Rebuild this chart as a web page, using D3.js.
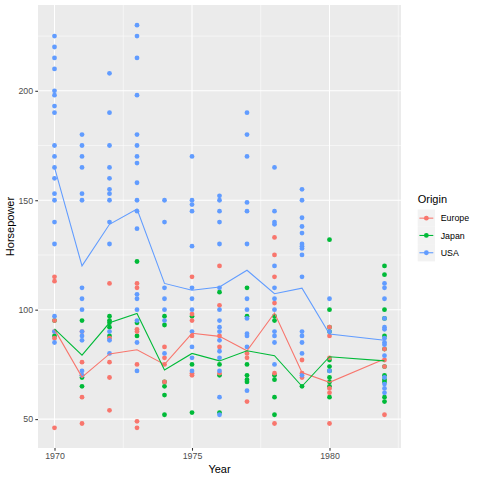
<!DOCTYPE html>
<html>
<head>
<meta charset="utf-8">
<script src="https://cdn.jsdelivr.net/npm/d3@7"></script>
<style>
  body { margin: 0; background: #fff; }
  svg { display: block; font-family: "Liberation Sans", Arial, sans-serif; }
</style>
</head>
<body>
<div id="chart"></div>
<script>
// Data: horsepower per model year, by origin
var years = [1970, 1971, 1972, 1973, 1974, 1975, 1976, 1977, 1978, 1979, 1980, 1982];

var usaHp = [
    [225, 220, 215, 210, 200, 198, 193, 190, 175, 170, 165, 160, 153, 150, 140, 130, 97, 90, 85],
    [180, 175, 170, 165, 153, 150, 110, 105, 100, 90, 88, 86, 72, 70],
    [208, 190, 175, 165, 160, 155, 153, 150, 140, 130, 90, 86, 80],
    [230, 225, 215, 198, 180, 175, 170, 167, 158, 150, 145, 137, 107, 105, 100, 95, 85, 72],
    [150, 140, 110, 105, 100, 95, 80],
    [170, 150, 148, 145, 129, 110, 105, 100, 90, 83, 78, 72],
    [152, 150, 145, 140, 130, 110, 100, 95, 92, 90, 86, 81, 78, 72, 60, 52],
    [190, 180, 170, 149, 145, 130, 105, 100, 96, 89, 88, 83, 63],
    [165, 145, 140, 139, 120, 110, 105, 100, 90, 88, 85, 75],
    [155, 150, 142, 138, 135, 130, 129, 128, 125, 115, 90, 88, 85, 80, 70],
    [105, 90, 72],
    [112, 110, 105, 96, 92, 91, 87, 85, 84, 79, 69, 66, 64, 62]
];
var europeHp = [
    [115, 113, 95, 90, 87, 46],
    [90, 76, 70, 60, 48],
    [112, 87, 76, 69, 54],
    [112, 110, 91, 90, 75, 49, 46],
    [83, 78, 75, 67],
    [115, 98, 95, 88, 71, 70],
    [120, 102, 88, 83, 71],
    [80, 78, 58],
    [133, 125, 115, 103, 71, 48],
    [77, 71, 69],
    [92, 88, 78, 64, 62, 48],
    [82, 77, 74, 52]
];
var japanHp = [
    [95, 88],
    [95, 69, 65],
    [97, 95, 94, 92, 88],
    [122, 94, 88],
    [97, 93, 67, 65, 61, 52],
    [97, 75, 53],
    [108, 75, 70, 53],
    [110, 97, 75, 70, 68, 67],
    [97, 95, 70, 68, 60, 52],
    [65],
    [132, 100, 92, 90, 77, 74, 72, 69, 67, 65, 60],
    [120, 116, 100, 96, 88, 82, 74, 70, 68, 67, 60, 58]
];

// yearly means (the lines)
var usaMean = [165, 120, 139, 146, 112, 108.9, 110.4, 118, 107.3, 109.8, 88.9, 86];
var europeMean = [91, 69.2, 79.8, 81.7, 75, 89.2, 87.8, 81.2, 98.5, 71.3, 66.8, 77.5];
var japanMean = [91.2, 79.2, 94, 98.3, 72.4, 80, 76.6, 81.2, 79, 65, 78.5, 76.6];

var origins = ["Europe", "Japan", "USA"];
var colors = ["#F8766D", "#00BA38", "#619CFF"];

var svgWidth = 480;
var svgHeight = 480;
var panel = { left: 38, right: 401, top: 5, bottom: 448 };

var svg = d3.select("#chart")
    .append("svg")
    .attr("width", svgWidth)
    .attr("height", svgHeight);

var xScale = d3.scaleLinear()
    .domain([1969.4, 1982.6])
    .range([panel.left, panel.right]);

var yScale = d3.scaleLinear()
    .domain([36.8, 239.2])
    .range([panel.bottom, panel.top]);

// panel background + grid
svg.append("rect")
    .attr("x", panel.left)
    .attr("y", panel.top)
    .attr("width", panel.right - panel.left)
    .attr("height", panel.bottom - panel.top)
    .attr("fill", "#EBEBEB");

var gridGroup = svg.append("g");

[1972.5, 1977.5, 1982.5].forEach(function(v) {
    gridGroup.append("line")
        .attr("x1", xScale(v)).attr("x2", xScale(v))
        .attr("y1", panel.top).attr("y2", panel.bottom)
        .attr("stroke", "#fff").attr("stroke-width", 0.53);
});
[75, 125, 175, 225].forEach(function(v) {
    gridGroup.append("line")
        .attr("x1", panel.left).attr("x2", panel.right)
        .attr("y1", yScale(v)).attr("y2", yScale(v))
        .attr("stroke", "#fff").attr("stroke-width", 0.53);
});
[1970, 1975, 1980].forEach(function(v) {
    gridGroup.append("line")
        .attr("x1", xScale(v)).attr("x2", xScale(v))
        .attr("y1", panel.top).attr("y2", panel.bottom)
        .attr("stroke", "#fff").attr("stroke-width", 1.07);
});
[50, 100, 150, 200].forEach(function(v) {
    gridGroup.append("line")
        .attr("x1", panel.left).attr("x2", panel.right)
        .attr("y1", yScale(v)).attr("y2", yScale(v))
        .attr("stroke", "#fff").attr("stroke-width", 1.07);
});

// flatten points
function flatten(hpLists, origin) {
    var out = [];
    hpLists.forEach(function(list, i) {
        list.forEach(function(hp) {
            out.push({ year: years[i], hp: hp, origin: origin });
        });
    });
    return out;
}

var points = flatten(japanHp, "Japan")
    .concat(flatten(europeHp, "Europe"))
    .concat(flatten(usaHp, "USA"));

var colorScale = d3.scaleOrdinal().domain(origins).range(colors);

svg.append("g")
    .selectAll("circle")
    .data(points)
    .enter()
    .append("circle")
    .attr("cx", d => xScale(d.year))
    .attr("cy", d => yScale(d.hp))
    .attr("r", 2.4)
    .attr("fill", d => colorScale(d.origin));

// mean lines
var meanSeries = [
    { origin: "Europe", values: europeMean },
    { origin: "Japan", values: japanMean },
    { origin: "USA", values: usaMean }
];

var line = d3.line()
    .x((d, i) => xScale(years[i]))
    .y(d => yScale(d));

svg.append("g")
    .selectAll("path")
    .data(meanSeries)
    .enter()
    .append("path")
    .attr("d", d => line(d.values))
    .attr("fill", "none")
    .attr("stroke", d => colorScale(d.origin))
    .attr("stroke-width", 1.07);

// axes
var bottomAxis = d3.axisBottom(xScale)
    .tickValues([1970, 1975, 1980])
    .tickFormat(d3.format("d"))
    .tickSize(2.7)
    .tickPadding(2.2);

var leftAxis = d3.axisLeft(yScale)
    .tickValues([50, 100, 150, 200])
    .tickSize(2.7)
    .tickPadding(2.2);

var xAxis = svg.append("g")
    .attr("transform", `translate(0, ${panel.bottom})`)
    .call(bottomAxis);

var yAxis = svg.append("g")
    .attr("transform", `translate(${panel.left}, 0)`)
    .call(leftAxis);

[xAxis, yAxis].forEach(function(axis) {
    axis.select(".domain").remove();
    axis.selectAll(".tick line").attr("stroke", "#333333").attr("stroke-width", 1.07);
    axis.selectAll(".tick text")
        .attr("fill", "#4D4D4D")
        .attr("font-size", "8.8px")
        .attr("font-family", "Liberation Sans, Arial, sans-serif");
});

svg.append("text")
    .attr("x", (panel.left + panel.right) / 2)
    .attr("y", 473)
    .attr("text-anchor", "middle")
    .attr("font-size", "11px")
    .attr("fill", "#000")
    .text("Year");

svg.append("text")
    .attr("transform", `translate(14, ${(panel.top + panel.bottom) / 2}) rotate(-90)`)
    .attr("text-anchor", "middle")
    .attr("font-size", "11px")
    .attr("fill", "#000")
    .text("Horsepower");

// legend
var legend = svg.append("g")
    .attr("transform", "translate(417.7, 0)");

legend.append("text")
    .attr("x", 0)
    .attr("y", 203)
    .attr("font-size", "11px")
    .attr("fill", "#000")
    .text("Origin");

var keys = legend.selectAll("g.key")
    .data(origins)
    .enter()
    .append("g")
    .attr("class", "key")
    .attr("transform", (d, i) => `translate(0, ${209.5 + i * 17.3})`);

keys.append("rect")
    .attr("width", 17.3)
    .attr("height", 17.3)
    .attr("fill", "#F2F2F2");

keys.append("line")
    .attr("x1", 1.7).attr("x2", 15.6)
    .attr("y1", 8.65).attr("y2", 8.65)
    .attr("stroke", d => colorScale(d))
    .attr("stroke-width", 1.07);

keys.append("circle")
    .attr("cx", 8.65)
    .attr("cy", 8.65)
    .attr("r", 2.4)
    .attr("fill", d => colorScale(d));

keys.append("text")
    .attr("x", 23)
    .attr("y", 8.65)
    .attr("dy", "0.35em")
    .attr("font-size", "8.8px")
    .attr("fill", "#000")
    .text(d => d);
</script>
</body>
</html>
